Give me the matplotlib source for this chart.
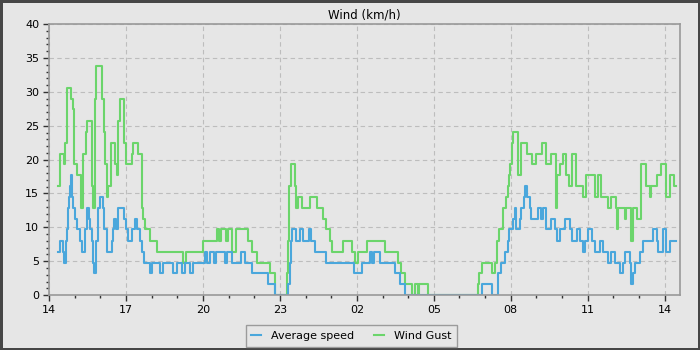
import datetime as dt
import matplotlib
matplotlib.use("Agg")
import matplotlib.pyplot as plt
import matplotlib.dates as mdates
from matplotlib.ticker import MultipleLocator

# wind readings, km/h, times as HH:MM (rolling past midnight)
gust_times = [
    "14:22", "14:26", "14:34", "14:37", "14:41", "14:51", "14:55", "14:59", "15:06", "15:16",
    "15:20", "15:26", "15:30", "15:40", "15:42", "15:48", "15:51", "16:03", "16:09", "16:11",
    "16:15", "16:19", "16:24", "16:34", "16:38", "16:42", "16:46", "16:55", "17:00", "17:13",
    "17:16", "17:27", "17:37", "17:40", "17:44", "17:56", "18:12", "19:13", "19:20", "20:01",
    "20:32", "20:37", "20:42", "20:54", "20:58", "21:08", "21:17", "21:45", "21:54", "22:07",
    "22:37", "22:48", "23:17", "23:20", "23:22", "23:25", "23:35", "23:37", "23:43", "23:51",
    "00:10", "00:26", "00:41", "00:48", "00:56", "01:01", "01:28", "01:48", "01:55", "02:03",
    "02:24", "03:05", "03:37", "03:44", "03:52", "04:08", "04:15", "04:24", "04:26", "04:47",
    "06:44", "06:46", "06:52", "07:15", "07:23", "07:28", "07:33", "07:41", "07:48", "07:54",
    "07:56", "07:58", "08:02", "08:06", "08:16", "08:25", "08:37", "08:50", "08:58", "09:12",
    "09:22", "09:35", "09:45", "09:48", "09:55", "10:01", "10:09", "10:16", "10:22", "10:32",
    "10:49", "10:57", "11:16", "11:24", "11:32", "11:48", "11:55", "12:05", "12:08", "12:10",
    "12:27", "12:30", "12:42", "12:46", "12:54", "13:04", "13:16", "13:25", "13:29", "13:41",
    "13:52", "14:04", "14:12", "14:21", "14:27",
]
gust_values = [
    16.1, 20.9, 19.3, 22.5, 30.6, 29.0, 27.4, 19.3, 17.7, 12.9,
    20.9, 24.1, 25.7, 16.1, 12.9, 29.0, 33.8, 29.0, 24.1, 19.3,
    14.5, 16.1, 22.5, 19.3, 17.7, 25.7, 29.0, 22.5, 19.3, 20.9,
    22.5, 20.9, 12.9, 11.3, 9.7, 8.0, 6.4, 4.8, 6.4, 8.0,
    9.7, 8.0, 9.7, 8.0, 9.7, 6.4, 9.7, 8.0, 6.4, 4.8,
    3.2, 0.0, 3.2, 8.0, 16.1, 19.3, 16.1, 12.9, 14.5, 12.9,
    14.5, 12.9, 11.3, 9.7, 8.0, 6.4, 8.0, 6.4, 4.8, 6.4,
    8.0, 6.4, 4.8, 3.2, 1.6, 0.0, 1.6, 0.0, 1.6, 0.0,
    1.6, 3.2, 4.8, 3.2, 4.8, 8.0, 9.7, 12.9, 14.5, 16.1,
    17.7, 19.3, 22.5, 24.1, 17.7, 22.5, 20.9, 19.3, 20.9, 22.5,
    19.3, 20.9, 12.9, 17.7, 19.3, 20.9, 17.7, 16.1, 20.9, 16.1,
    14.5, 17.7, 14.5, 17.7, 14.5, 12.9, 14.5, 12.9, 9.7, 12.9,
    11.3, 12.9, 8.0, 12.9, 11.3, 19.3, 16.1, 14.5, 16.1, 17.7,
    19.3, 14.5, 17.7, 16.1, 16.1,
]

avg_times = [
    "14:22", "14:26", "14:33", "14:36", "14:39", "14:41", "14:44", "14:47", "14:49", "14:51",
    "14:53", "14:54", "14:57", "15:01", "15:06", "15:12", "15:17", "15:24", "15:30", "15:34",
    "15:36", "15:40", "15:44", "15:45", "15:49", "15:55", "15:59", "16:07", "16:09", "16:15",
    "16:27", "16:30", "16:33", "16:37", "16:42", "16:55", "16:59", "17:04", "17:15", "17:21",
    "17:26", "17:32", "17:37", "17:42", "17:56", "18:00", "18:20", "18:27", "18:51", "18:59",
    "19:10", "19:18", "19:30", "19:37", "20:05", "20:10", "20:16", "20:26", "20:30", "20:51",
    "20:57", "21:07", "21:28", "21:38", "21:54", "22:33", "22:48", "23:19", "23:23", "23:26",
    "23:29", "23:37", "23:47", "23:54", "00:08", "00:12", "00:22", "00:47", "01:54", "02:11",
    "02:30", "02:36", "02:40", "02:55", "03:29", "03:41", "03:52", "06:52", "07:15", "07:30",
    "07:38", "07:46", "07:54", "07:56", "08:05", "08:09", "08:13", "08:21", "08:25", "08:30",
    "08:34", "08:37", "08:46", "08:48", "09:04", "09:10", "09:15", "09:23", "09:35", "09:43",
    "09:47", "09:55", "10:06", "10:18", "10:22", "10:34", "10:41", "10:49", "10:53", "11:01",
    "11:09", "11:16", "11:28", "11:36", "11:48", "11:55", "12:03", "12:15", "12:23", "12:27",
    "12:38", "12:42", "12:46", "12:50", "13:02", "13:09", "13:33", "13:41", "13:44", "13:56",
    "14:04", "14:12", "14:27",
]
avg_values = [
    6.4, 8.0, 6.4, 4.8, 8.0, 9.7, 12.9, 14.5, 16.1, 17.7,
    16.1, 14.5, 12.9, 11.3, 9.7, 8.0, 6.4, 9.7, 12.9, 11.3,
    9.7, 8.0, 4.8, 3.2, 8.0, 12.9, 14.5, 12.9, 9.7, 6.4,
    8.0, 9.7, 11.3, 9.7, 12.9, 11.3, 9.7, 8.0, 9.7, 11.3,
    9.7, 8.0, 6.4, 4.8, 3.2, 4.8, 3.2, 4.8, 3.2, 4.8,
    3.2, 4.8, 3.2, 4.8, 6.4, 4.8, 6.4, 4.8, 6.4, 4.8,
    6.4, 4.8, 6.4, 4.8, 3.2, 1.6, 0.0, 1.6, 4.8, 8.0,
    9.7, 8.0, 9.7, 8.0, 9.7, 8.0, 6.4, 4.8, 3.2, 4.8,
    6.4, 4.8, 6.4, 4.8, 3.2, 1.6, 0.0, 1.6, 0.0, 3.2,
    4.8, 6.4, 8.0, 9.7, 11.3, 12.9, 9.7, 11.3, 12.9, 14.5,
    16.1, 14.5, 12.9, 11.3, 12.9, 11.3, 12.9, 9.7, 11.3, 9.7,
    8.0, 9.7, 11.3, 9.7, 8.0, 9.7, 8.0, 6.4, 8.0, 9.7,
    8.0, 6.4, 8.0, 6.4, 4.8, 6.4, 4.8, 3.2, 4.8, 6.4,
    4.8, 1.6, 3.2, 4.8, 6.4, 8.0, 9.7, 8.0, 6.4, 9.7,
    6.4, 8.0, 8.0,
]


def to_datetimes(times, start=dt.datetime(2024, 1, 14)):
    out = []
    day = 0
    prev = None
    for t in times:
        h, m = map(int, t.split(":"))
        cur = h * 60 + m
        if prev is not None and cur < prev:
            day += 1
        prev = cur
        out.append(start + dt.timedelta(days=day, minutes=cur))
    return out


bg = "#e6e6e6"
fig = plt.figure(figsize=(7, 3.5), dpi=100)
fig.patch.set_facecolor(bg)
fig.patch.set_edgecolor("#464646")
fig.patch.set_linewidth(3.5)

ax = fig.add_axes([0.07, 0.157, 0.901, 0.774])
ax.set_facecolor(bg)

gx = to_datetimes(gust_times)
axx = to_datetimes(avg_times)
l2, = ax.step(gx, gust_values, where="post", color="#6bd56b", lw=1.5, label="Wind Gust")
l1, = ax.step(axx, avg_values, where="post", color="#4aa7dc", lw=1.5, label="Average speed")

ax.set_ylim(0, 40)
ax.set_xlim(dt.datetime(2024, 1, 14, 14, 0), dt.datetime(2024, 1, 15, 14, 35))
ax.yaxis.set_major_locator(MultipleLocator(5))
ax.yaxis.set_minor_locator(MultipleLocator(1))
ax.xaxis.set_major_locator(mdates.HourLocator(byhour=range(2, 24, 3)))
ax.xaxis.set_minor_locator(mdates.HourLocator())
ax.xaxis.set_major_formatter(mdates.DateFormatter("%H"))

ax.grid(True, which="major", color="#bdbdbd", ls=(0, (4, 3)), lw=0.8)
ax.set_axisbelow(True)
for s in ax.spines.values():
    s.set_color("#999999")
    s.set_linewidth(1.2)
ax.tick_params(which="major", length=4, width=1, color="#333333", labelsize=8, pad=3)
ax.tick_params(which="minor", length=2.5, width=1, color="#333333")

ax.set_title("Wind (km/h)", fontsize=8.5, pad=4)

leg = fig.legend([l1, l2], ["Average speed", "Wind Gust"], loc="center",
                 bbox_to_anchor=(0.502, 0.04), ncol=2, fontsize=8,
                 frameon=True, fancybox=False, handlelength=0.9,
                 columnspacing=1.8, borderpad=0.5, handletextpad=0.9)
leg.get_frame().set_facecolor(bg)
leg.get_frame().set_edgecolor("#888888")
leg.get_frame().set_linewidth(1)

fig.savefig("out.png", dpi=100, facecolor=fig.get_facecolor(), edgecolor=fig.get_edgecolor())
